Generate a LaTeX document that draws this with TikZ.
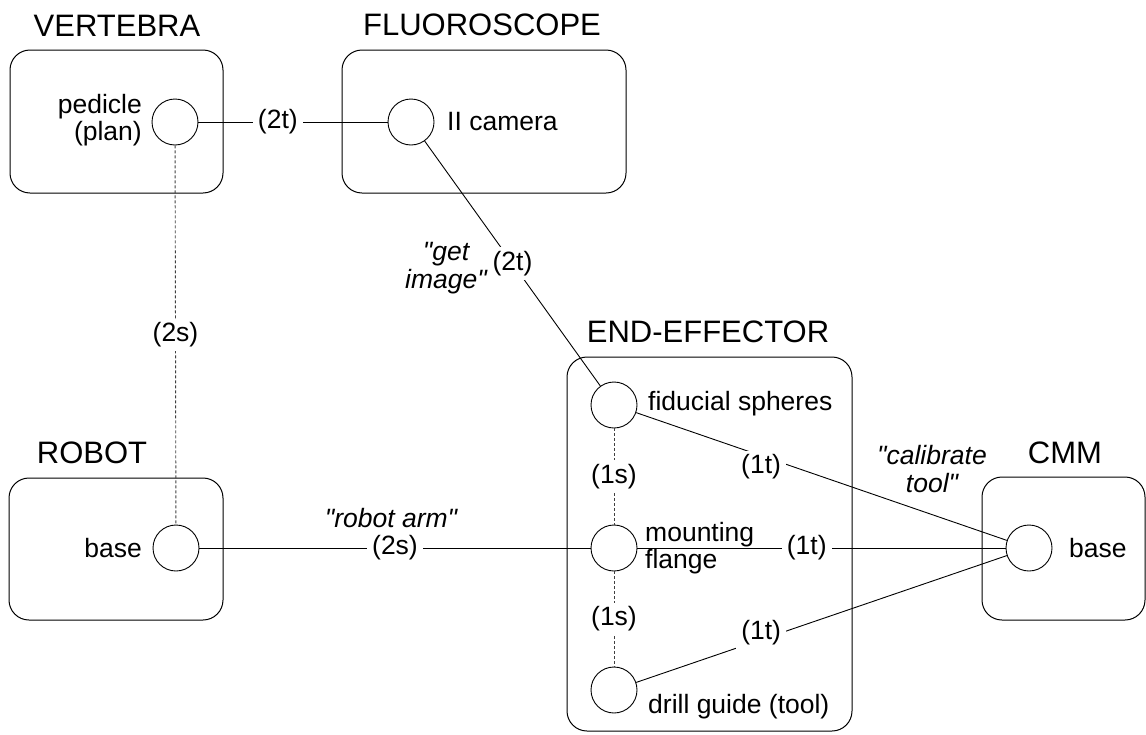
\documentclass[tikz,border=0pt]{standalone}
\usepackage{fontspec}
\setmainfont{Liberation Sans}[Ligatures=TeXOff]
\begin{document}
\begin{tikzpicture}[x=1pt, y=-1pt,
  grp/.style={draw, line width=1pt, rounded corners=20pt},
  port/.style={draw, circle, minimum size=46pt, inner sep=0pt, line width=0.9pt},
  title/.style={font=\fontsize{31}{33}\selectfont, inner sep=0pt},
  txt/.style={font=\fontsize{26.5}{27}\selectfont, inner sep=0pt},
  lbl/.style={font=\fontsize{26.5}{27}\selectfont, fill=white, inner xsep=5pt, inner ysep=4pt},
  quote/.style={font=\fontsize{26.5}{28}\selectfont\itshape, align=center, inner sep=0pt},
  link/.style={line width=0.9pt},
  rigid/.style={line width=0.9pt, draw=black!75, dash pattern=on 3pt off 2pt},
]
\useasboundingbox (0,0) rectangle (1146,734);

% frames of the five bodies
\node[grp, minimum width=213pt, minimum height=143pt] (vert)  at (116.5,121.5) {};
\node[grp, minimum width=284pt, minimum height=143pt] (fluo)  at (484,121.5) {};
\node[grp, minimum width=214pt, minimum height=142pt] (robot) at (116,549) {};
\node[grp, minimum width=285pt, minimum height=374pt] (ee)    at (709.5,544) {};
\node[grp, minimum width=163pt, minimum height=143pt] (cmm)   at (1063.5,548.5) {};

% body names
\node[title] (t-vert)  at (117,26)  {VERTEBRA};
\node[title] (t-fluo)  at (482,25)  {FLUOROSCOPE};
\node[title] (t-robot) at (92,453)  {ROBOT};
\node[title] (t-ee)    at (708,332) {END-EFFECTOR};
\node[title] (t-cmm)   at (1065,453) {CMM};

% frames (ports)
\node[port] (ped)    at (175,122) {};
\node[port] (cam)    at (411,122) {};
\node[port] (rbase)  at (176,548) {};
\node[port] (fid)    at (614,405) {};
\node[port] (flange) at (614,548) {};
\node[port] (drill)  at (614,690) {};
\node[port] (cbase)  at (1029,548) {};

% port names
\node[txt, anchor=east, align=right] (n-ped) at (142,120) {pedicle\\(plan)};
\node[txt, anchor=west] (n-cam)    at (447,122) {II camera};
\node[txt, anchor=east] (n-rbase)  at (142,548) {base};
\node[txt, anchor=west] (n-fid)    at (648,404) {fiducial spheres};
\node[txt, anchor=west, align=left] (n-flange) at (645,548) {mounting\\flange};
\node[txt, anchor=west] (n-drill)  at (648,707) {drill guide (tool)};
\node[txt, anchor=west] (n-cbase)  at (1069,548) {base};

% transforms
\draw[link] (ped) -- node[lbl, pos=0.42] (l-pc) {(2t)} (cam);
\draw[link] (cam) -- node[lbl, pos=0.5] (l-cf) {(2t)} (fid);
\draw[rigid] (ped) -- node[lbl, pos=0.5] (l-pr) {(2s)} (rbase);
\draw[link] (rbase) -- node[lbl, pos=0.5] (l-rf) {(2s)} (flange);
\draw[rigid] (fid) -- node[lbl, pos=0.5] (l-ff) {(1s)} (flange);
\draw[rigid] (flange) -- node[lbl, pos=0.5] (l-fd) {(1s)} (drill);
\draw[link] (fid) -- node[lbl, pos=0.36, xshift=-8.5pt, yshift=-8.4pt] (l-fc) {(1t)} (cbase);
\draw[link] (flange) -- node[lbl, pos=0.46] (l-mc) {(1t)} (cbase);
\draw[link] (drill) -- node[lbl, pos=0.348, xshift=-4pt, yshift=5.5pt] (l-dc) {(1t)} (cbase);

% procedure names
\node[quote] (q-img) at (446,268) {"get\\image"};
\node[quote] (q-arm) at (391,518) {"robot arm"};
\node[quote] (q-cal) at (932,469) {"calibrate\\tool"};
\end{tikzpicture}
\end{document}
